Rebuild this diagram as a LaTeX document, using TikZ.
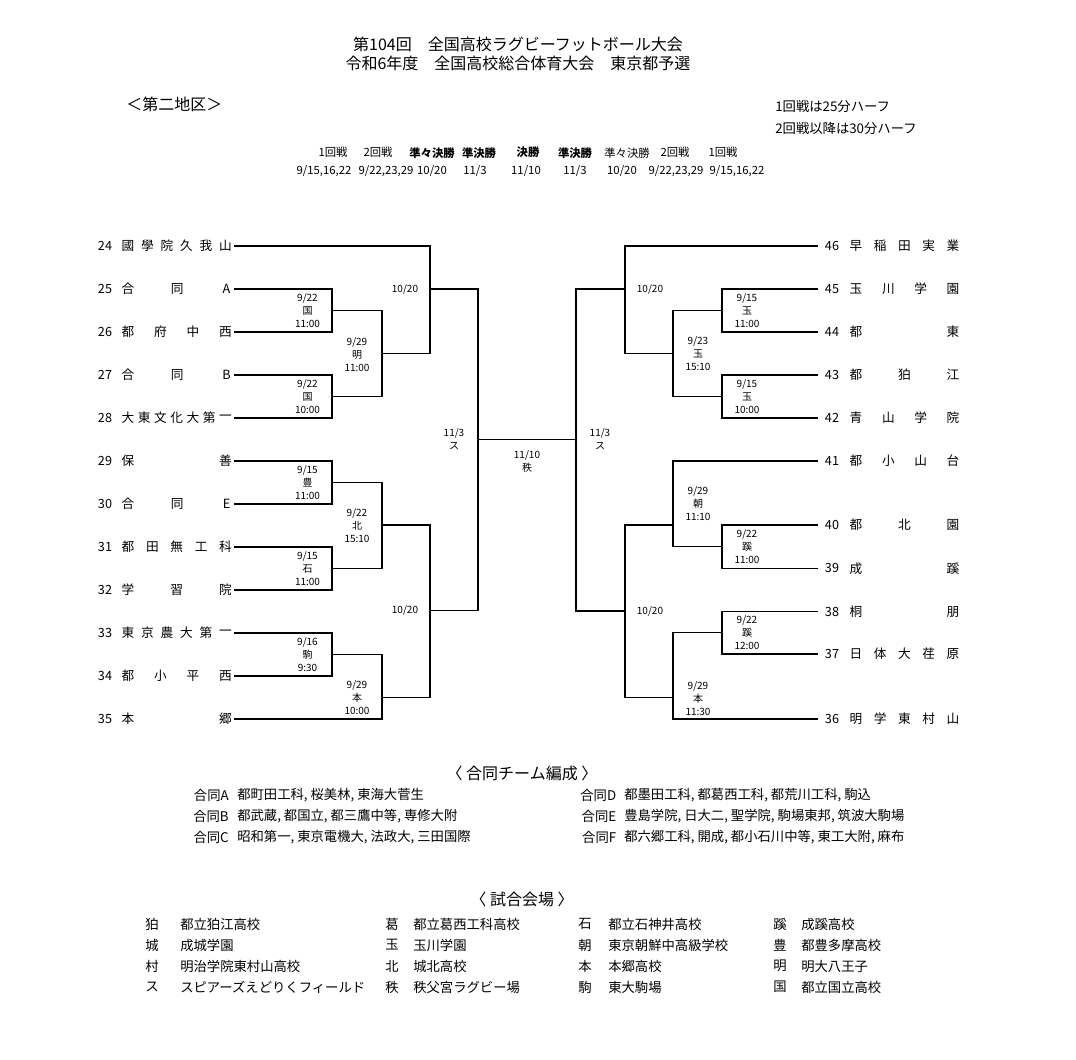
\documentclass[tikz,border=0pt]{standalone}
\usepackage{fontspec}
\setmainfont{Noto Sans CJK JP}
\begin{document}
\begin{tikzpicture}[x=0.75pt,y=-0.75pt,
  br/.style={line width=0.95pt, line cap=rect, line join=miter},
  teamtxt/.style={font=\fontsize{9.5}{11}\selectfont, inner sep=0pt, anchor=center},
  lbl/.style={font=\fontsize{7.5}{9.75}\selectfont, align=center, inner sep=0pt},
  hdr/.style={font=\fontsize{8.5}{10}\selectfont, inner sep=0pt},
  hdrb/.style={font=\fontsize{8.5}{10}\selectfont\bfseries, inner sep=0pt},
  ttl/.style={font=\fontsize{12}{14}\selectfont, inner sep=0pt},
  note/.style={font=\fontsize{10}{12}\selectfont, inner sep=0pt, anchor=west},
  tbl/.style={font=\fontsize{10}{12}\selectfont, inner sep=0pt},
]
\useasboundingbox (0,0) rectangle (1076,1060);
\fill[white] (0,0) rectangle (1076,1060);

\newcommand\myspread[5]{%
  \foreach \ch [count=\k] in {#5} {\xdef\mynch{\k}}%
  \foreach \ch [count=\k] in {#5} {%
    \pgfmathsetmacro\myxx{#2+(\k-1)*(#3-#2)/max(\mynch-1,1)}%
    \node[teamtxt] (#1-\k) at (\myxx,#4) {\ch};}%
}

% ---------- titles ----------
\node[ttl] (title1) at (518,44) {第104回　全国高校ラグビーフットボール大会};
\node[ttl] (title2) at (518,63) {令和6年度　全国高校総合体育大会　東京都予選};
\node[ttl, anchor=west] (area) at (126,104) {＜第二地区＞};
\node[note] (note1) at (775,106) {1回戦は25分ハーフ};
\node[note] (note2) at (775,128) {2回戦以降は30分ハーフ};

% ---------- header ----------
\node[hdr]  (h1) at (333,152.7) {1回戦};
\node[hdr]  (h2) at (378,152.7) {2回戦};
\node[hdrb] (h3) at (432,152.7) {準々決勝};
\node[hdrb] (h4) at (479,152.7) {準決勝};
\node[hdrb] (h5) at (528,152.7) {決勝};
\node[hdrb] (h6) at (575,152.7) {準決勝};
\node[hdr]  (h7) at (627,152.7) {準々決勝};
\node[hdr]  (h8) at (675,152.7) {2回戦};
\node[hdr]  (h9) at (723,152.7) {1回戦};
\node[hdr] (d1) at (324,171) {9/15,16,22};
\node[hdr] (d2) at (386,171) {9/22,23,29};
\node[hdr] (d3) at (432,171) {10/20};
\node[hdr] (d4) at (475,171) {11/3};
\node[hdr] (d5) at (526,171) {11/10};
\node[hdr] (d6) at (575,171) {11/3};
\node[hdr] (d7) at (622,171) {10/20};
\node[hdr] (d8) at (676,171) {9/22,23,29};
\node[hdr] (d9) at (737,171) {9/15,16,22};

% ---------- teams left ----------
\foreach \n/\y in {24/246,25/289,26/332,27/375,28/418,29/461,30/504,31/547,32/590,33/633,34/676,35/719}{
  \coordinate (L\n) at (235,\y);
  \node[teamtxt] (LN\n) at (105,\y) {\n};
}
\myspread{T24}{128}{225.5}{246}{國,學,院,久,我,山}
\myspread{T25}{128}{226.5}{289}{合,同,A}
\myspread{T26}{128}{225.5}{332}{都,府,中,西}
\myspread{T27}{128}{226.5}{375}{合,同,B}
\myspread{T28}{128}{225.5}{418}{大,東,文,化,大,第,一}
\myspread{T29}{128}{225.5}{461}{保,善}
\myspread{T30}{128}{226.5}{504}{合,同,E}
\myspread{T31}{128}{225.5}{547}{都,田,無,工,科}
\myspread{T32}{128}{225.5}{590}{学,習,院}
\myspread{T33}{128}{225.5}{633}{東,京,農,大,第,一}
\myspread{T34}{128}{225.5}{676}{都,小,平,西}
\myspread{T35}{128}{225.5}{719}{本,郷}

% ---------- teams right ----------
\foreach \n/\y in {46/246,45/289,44/332,43/375,42/418,41/461,40/525,39/568.3,38/611.7,37/654,36/719}{
  \coordinate (R\n) at (817,\y);
  \node[teamtxt] (RN\n) at (832,\y) {\n};
}
\myspread{T46}{856}{953}{246}{早,稲,田,実,業}
\myspread{T45}{856}{953}{289}{玉,川,学,園}
\myspread{T44}{856}{953}{332}{都,東}
\myspread{T43}{856}{953}{375}{都,狛,江}
\myspread{T42}{856}{953}{418}{青,山,学,院}
\myspread{T41}{856}{953}{461}{都,小,山,台}
\myspread{T40}{856}{953}{525}{都,北,園}
\myspread{T39}{856}{953}{568.3}{成,蹊}
\myspread{T38}{856}{953}{611.7}{桐,朋}
\myspread{T37}{856}{953}{654}{日,体,大,荏,原}
\myspread{T36}{856}{953}{719}{明,学,東,村,山}

% ---------- junction coordinates ----------
\coordinate (m1) at (332,310.7);
\coordinate (m2) at (332,396.7);
\coordinate (m3) at (332,482.7);
\coordinate (m4) at (332,568.3);
\coordinate (m5) at (332,654.3);
\coordinate (n1) at (382,353.3);
\coordinate (n2) at (382,525);
\coordinate (n3) at (382,697.3);
\coordinate (q1) at (430,289);
\coordinate (q2) at (430,610.7);
\coordinate (s1) at (478,439.3);
\coordinate (a1) at (722,310.7);
\coordinate (a2) at (722,396.7);
\coordinate (a3) at (722,546.7);
\coordinate (a4) at (722,632.7);
\coordinate (b1) at (673,353.3);
\coordinate (b2) at (673,525);
\coordinate (b3) at (673,697.3);
\coordinate (c1) at (625,289);
\coordinate (c2) at (625,611);
\coordinate (t1) at (576,439.3);

% ---------- bracket left ----------
\draw[br] (L25) -| (m1) |- (L26);
\draw[br] (L27) -| (m2) |- (L28);
\draw[br] (L29) -| (m3) |- (L30);
\draw[br] (L31) -| (m4) |- (L32);
\draw[br] (L33) -| (m5) |- (L34);
\draw[br] (m1) -| (n1);
\draw[br] (m2) -| (n1);
\draw[br] (m3) -| (n2);
\draw[br] (m4) -| (n2);
\draw[br] (m5) -| (n3);
\draw[br] (L35) -| (n3);
\draw[br] (L24) -| (q1);
\draw[br] (n1) -| (q1);
\draw[br] (n2) -| (q2);
\draw[br] (n3) -| (q2);
\draw[br] (q1) -| (s1);
\draw[br] (q2) -| (s1);
\draw[br] (s1) -- (t1);

% ---------- bracket right ----------
\draw[br] (R45) -| (a1) |- (R44);
\draw[br] (R43) -| (a2) |- (R42);
\draw[br] (R40) -| (a3) |- (R39);
\draw[br] (R38) -| (a4) |- (R37);
\draw[br] (a1) -| (b1);
\draw[br] (a2) -| (b1);
\draw[br] (R41) -| (b2);
\draw[br] (a3) -| (b2);
\draw[br] (a4) -| (b3);
\draw[br] (R36) -| (b3);
\draw[br] (R46) -| (c1);
\draw[br] (b1) -| (c1);
\draw[br] (b2) -| (c2);
\draw[br] (b3) -| (c2);
\draw[br] (c1) -| (t1);
\draw[br] (c2) -| (t1);

% ---------- match labels left ----------
\node[lbl] (lm1) at (307.5,310.7) {9/22\\国\\11:00};
\node[lbl] (lm2) at (307.5,396.7) {9/22\\国\\10:00};
\node[lbl] (lm3) at (307.5,482.7) {9/15\\豊\\11:00};
\node[lbl] (lm4) at (307.5,568.3) {9/15\\石\\11:00};
\node[lbl] (lm5) at (307.5,654.3) {9/16\\駒\\9:30};
\node[lbl] (ln1) at (357,354.7) {9/29\\明\\11:00};
\node[lbl] (ln2) at (357,526) {9/22\\北\\15:10};
\node[lbl] (ln3) at (357,697.3) {9/29\\本\\10:00};
\node[lbl] (lq1) at (405,289) {10/20};
\node[lbl] (lq2) at (405,610.7) {10/20};
\node[lbl] (ls1) at (454,439.5) {11/3\\ス};
\node[lbl] (lf) at (527,461) {11/10\\秩};

% ---------- match labels right ----------
\node[lbl] (la1) at (747,311) {9/15\\玉\\11:00};
\node[lbl] (la2) at (747,396.7) {9/15\\玉\\10:00};
\node[lbl] (la3) at (747,546.7) {9/22\\蹊\\11:00};
\node[lbl] (la4) at (747,632.5) {9/22\\蹊\\12:00};
\node[lbl] (lb1) at (698,353.7) {9/23\\玉\\15:10};
\node[lbl] (lb2) at (698,504) {9/29\\朝\\11:10};
\node[lbl] (lb3) at (698,699) {9/29\\本\\11:30};
\node[lbl] (lc1) at (650,289) {10/20};
\node[lbl] (lc2) at (650,611) {10/20};
\node[lbl] (lt1) at (600,439.5) {11/3\\ス};

% ---------- joint teams ----------
\node[ttl] (goudou) at (522,773) {〈 合同チーム編成 〉};
\node[tbl, anchor=east] (gA) at (229,795) {合同A};
\node[tbl, anchor=east] (gB) at (229,816) {合同B};
\node[tbl, anchor=east] (gC) at (229,837) {合同C};
\node[tbl, anchor=west] (vA) at (237,795) {都町田工科, 桜美林, 東海大菅生};
\node[tbl, anchor=west] (vB) at (237,816) {都武蔵, 都国立, 都三鷹中等, 専修大附};
\node[tbl, anchor=west] (vC) at (237,837) {昭和第一, 東京電機大, 法政大, 三田国際};
\node[tbl, anchor=east] (gD) at (616.5,795) {合同D};
\node[tbl, anchor=east] (gE) at (616.5,816) {合同E};
\node[tbl, anchor=east] (gF) at (616.5,837) {合同F};
\node[tbl, anchor=west] (vD) at (624,795) {都墨田工科, 都葛西工科, 都荒川工科, 駒込};
\node[tbl, anchor=west] (vE) at (624,816) {豊島学院, 日大二, 聖学院, 駒場東邦, 筑波大駒場};
\node[tbl, anchor=west] (vF) at (624,837) {都六郷工科, 開成, 都小石川中等, 東工大附, 麻布};

% ---------- venues ----------
\node[ttl] (venue) at (522,899) {〈 試合会場 〉};
\foreach \kx/\vx/\y/\k/\v [count=\i] in {
  152/180/924/狛/都立狛江高校,
  152/180/945/城/成城学園,
  152/180/966/村/明治学院東村山高校,
  152/180/987/ス/スピアーズえどりくフィールド,
  392/413/924/葛/都立葛西工科高校,
  392/413/945/玉/玉川学園,
  392/413/966/北/城北高校,
  392/413/987/秩/秩父宮ラグビー場,
  585/608/924/石/都立石神井高校,
  585/608/945/朝/東京朝鮮中高級学校,
  585/608/966/本/本郷高校,
  585/608/987/駒/東大駒場,
  780/801/924/蹊/成蹊高校,
  780/801/945/豊/都豊多摩高校,
  780/801/966/明/明大八王子,
  780/801/987/国/都立国立高校}{
  \node[tbl] (vk\i) at (\kx,\y) {\k};
  \node[tbl, anchor=west] (vv\i) at (\vx,\y) {\v};
}
\end{tikzpicture}
\end{document}
